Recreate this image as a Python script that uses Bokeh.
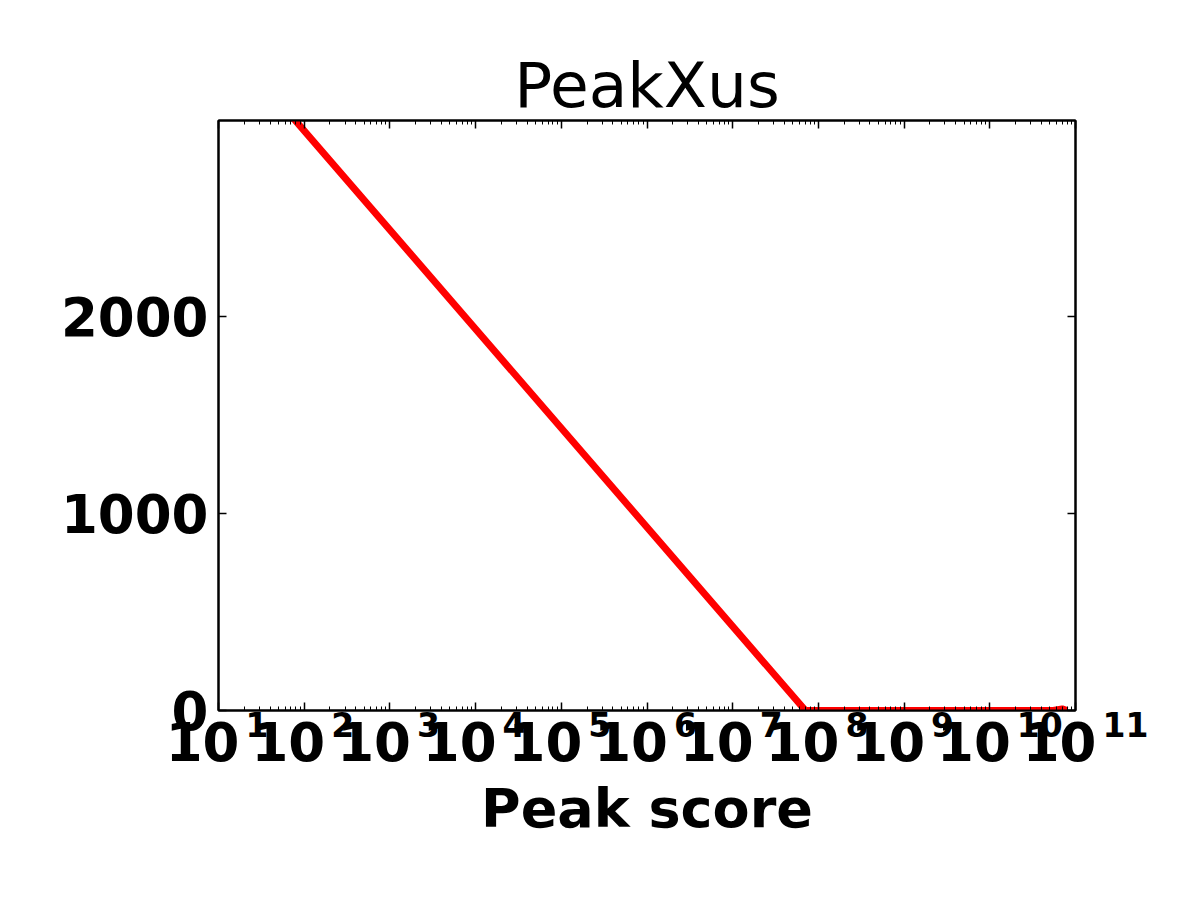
from bokeh.plotting import figure
from bokeh.models import (FixedTicker, LogAxis, LinearAxis, ColumnDataSource,
                          Range1d, CustomJSTickFormatter)
from bokeh.core.properties import value
from bokeh.embed import file_html
from bokeh.resources import INLINE

# ---- data ----
title_text = "PeakXus"
x_label = "Peak score"
peak_score = [10, 7.06e7, 5.5e10, 7.0e10, 8.0e10]
n_peaks = [3446, 0, 0, 8, 0]
x_exponents = list(range(1, 12))
y_ticks = [0, 1000, 2000]
x_min, x_max = 10, 1e11
y_min, y_max = 0, 2995

FONT = "DejaVu Sans"

p = figure(width=1184, height=884, x_axis_type="log",
           x_range=Range1d(x_min, x_max), y_range=Range1d(y_min, y_max),
           output_backend="svg", toolbar_location=None,
           min_border_left=218, min_border_right=109,
           min_border_top=120, min_border_bottom=174)
p.background_fill_color = "white"
p.border_fill_color = "white"
p.xgrid.visible = False
p.ygrid.visible = False
p.outline_line_color = "black"
p.outline_line_width = 2

p.line(peak_score, n_peaks, line_color="#ff0000", line_width=7)

major_x = [10.0 ** k for k in x_exponents]
minor_x = [m * 10.0 ** k for k in x_exponents[:-1] for m in range(2, 10)]
xt = FixedTicker(ticks=major_x, minor_ticks=minor_x)
yt = FixedTicker(ticks=y_ticks, minor_ticks=[])
blank = CustomJSTickFormatter(code="return ''")


def style_ticks(ax):
    ax.axis_line_color = "black"
    ax.axis_line_width = 2
    ax.major_tick_in = 8
    ax.major_tick_out = 0
    ax.minor_tick_in = 4
    ax.minor_tick_out = 0
    ax.major_tick_line_width = 1.5
    ax.minor_tick_line_width = 1
    ax.major_tick_line_color = "black"
    ax.minor_tick_line_color = "black"


# bottom x axis (tick labels drawn below as "10" + superscript)
xa = p.xaxis[0]
xa.ticker = xt
style_ticks(xa)
xa.formatter = blank
xa.major_label_text_font_size = "10px"
xa.major_label_standoff = 0
xa.axis_label = x_label
xa.axis_label_text_font = FONT
xa.axis_label_text_font_size = "54px"
xa.axis_label_text_font_style = "bold"
xa.axis_label_text_color = "black"
xa.axis_label_standoff = 66

# left y axis
ya = p.yaxis[0]
ya.ticker = yt
style_ticks(ya)
ya.major_label_text_font = FONT
ya.major_label_text_font_size = "53px"
ya.major_label_text_font_style = "bold"
ya.major_label_text_color = "black"
ya.major_label_standoff = 10

# mirrored top / right axes
top = LogAxis(ticker=xt, formatter=blank, major_label_text_font_size="10px",
              major_label_standoff=0)
style_ticks(top)
p.add_layout(top, "above")
right = LinearAxis(ticker=yt, formatter=blank, major_label_text_font_size="10px",
                   major_label_standoff=0)
style_ticks(right)
p.add_layout(right, "right")

# x tick labels: "10" with superscript exponent
src = ColumnDataSource(dict(x=major_x, y=[y_min] * len(major_x),
                            base=["10"] * len(major_x),
                            exp=[str(k) for k in x_exponents]))
r_base = p.text(x="x", y="y", text="base", source=src,
                x_offset=21, y_offset=31,
                text_align="right", text_baseline="alphabetic",
                text_font=value(FONT), text_font_size="53px",
                text_font_style="bold", text_color="black")
r_base.level = "overlay"
r_exp = p.text(x="x", y="y", text="exp", source=src,
               x_offset=27, y_offset=14,
               text_align="left", text_baseline="alphabetic",
               text_font=value(FONT), text_font_size="33px",
               text_font_style="bold", text_color="black")
r_exp.level = "overlay"

# title
tsrc = ColumnDataSource(dict(x=[(x_min * x_max) ** 0.5], y=[y_max], t=[title_text]))
r_title = p.text(x="x", y="y", text="t", source=tsrc, y_offset=-35,
                 text_align="center", text_baseline="alphabetic",
                 text_font=value(FONT), text_font_size="63px",
                 text_color="black")
r_title.level = "overlay"

open("out.html", "w").write(file_html(p, INLINE))
